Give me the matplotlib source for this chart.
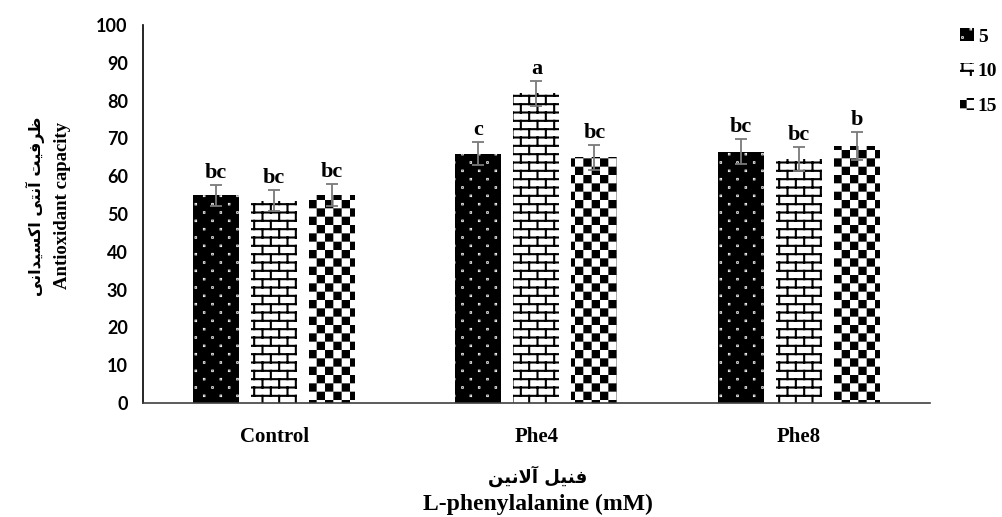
import warnings
import numpy as np
import matplotlib
matplotlib.use('Agg')
import matplotlib.pyplot as plt
from matplotlib.patches import Patch
from matplotlib.path import Path
from matplotlib import hatch as mhatch

warnings.filterwarnings('ignore')

# data
groups = ['Control', 'Phe4', 'Phe8']
series_names = ['5', '10', '15']
vals_5 = [55, 66, 66.5]
vals_10 = [53.5, 82, 64.5]
vals_15 = [55, 65, 68]
err_5 = [2.8, 3.0, 3.3]
err_10 = [2.8, 3.3, 3.2]
err_15 = [2.9, 3.3, 3.6]
letters_5 = ['bc', 'c', 'bc']
letters_10 = ['bc', 'a', 'bc']
letters_15 = ['bc', 'bc', 'b']

# persian labels (presentation forms, visual order)
fa_ylabel = '\uFEC7\uFEAE\uFED3\uFBFF\uFE96 \uFE81\uFEE7\uFE98\uFBFD \uFE8D\uFB90\uFEB4\uFBFF\uFEAA\uFE8D\uFEE7\uFBFD'[::-1]
fa_xlabel = '\uFED3\uFEE8\uFBFF\uFEDE \uFE81\uFEFB\uFEE7\uFBFF\uFEE6'[::-1]
en_ylabel = 'Antioxidant capacity'
en_xlabel = 'L-phenylalanine (mM)'

plt.rcParams['hatch.linewidth'] = 1.5
HW = 0.0105  # half hatch stroke in tile units


# custom hatch tiles (brick, checker, sparse dots)
class Tile(mhatch.HatchPatternBase):
    char = None

    def __init__(self, hatch, density):
        if hatch and self.char in hatch:
            self.verts, self.codes = self.build()
        else:
            self.verts = np.empty((0, 2))
            self.codes = np.empty(0, dtype=Path.code_type)
        self.num_vertices = len(self.verts)

    def set_vertices_and_codes(self, vertices, codes):
        vertices[:] = self.verts
        codes[:] = self.codes


class Brick(Tile):
    char = 'b'

    def build(self):
        rows, cols = 12, 6
        v, c = [], []
        for i in range(rows):
            y0 = (i + 0.5) / rows
            y1 = (i + 1.5) / rows
            v += [(0, y0), (1, y0)]
            c += [Path.MOVETO, Path.LINETO]
            off = 0.25 if i % 2 == 0 else 0.75
            for j in range(cols):
                xx = (j + off) / cols
                v += [(xx, y0), (xx, min(y1, 1.0))]
                c += [Path.MOVETO, Path.LINETO]
                if y1 > 1.0:
                    v += [(xx, 0.0), (xx, y1 - 1.0)]
                    c += [Path.MOVETO, Path.LINETO]
        return np.array(v), np.array(c, dtype=Path.code_type)


class Checker(Tile):
    char = 'k'

    def build(self):
        n = 12
        s = 1 / n
        v, c = [], []
        for i in range(n):
            for j in range(n):
                if (i + j) % 2 == 0:
                    x0, y0 = j * s + HW, i * s + HW
                    x1, y1 = (j + 1) * s - HW, (i + 1) * s - HW
                    v += [(x0, y0), (x1, y0), (x1, y1), (x0, y1), (x0, y0)]
                    c += [Path.MOVETO, Path.LINETO, Path.LINETO, Path.LINETO, Path.CLOSEPOLY]
        return np.array(v), np.array(c, dtype=Path.code_type)


class Dots(Tile):
    char = 'd'

    def build(self):
        rows, cols = 12, 6
        r = 0.002
        v, c = [], []
        for i in range(rows):
            off = 0.25 if i % 2 == 0 else 0.75
            y = (i + 0.5) / rows
            for j in range(cols):
                xx = (j + off) / cols
                v += [(xx - r, y - r), (xx + r, y - r), (xx + r, y + r), (xx - r, y + r), (xx - r, y - r)]
                c += [Path.MOVETO, Path.LINETO, Path.LINETO, Path.LINETO, Path.CLOSEPOLY]
        return np.array(v), np.array(c, dtype=Path.code_type)


mhatch._hatch_types.extend([Brick, Checker, Dots])

styles = [
    dict(facecolor='black', edgecolor='white', hatch='d'),
    dict(facecolor='white', edgecolor='black', hatch='b'),
    dict(facecolor='white', edgecolor='black', hatch='k'),
]

serif = ['Liberation Serif', 'DejaVu Sans']

fig = plt.figure(figsize=(10.03, 5.17), dpi=100)
ax = fig.add_axes([0.1426, 0.2205, 0.7844, 0.7311])

x = np.arange(len(groups))
step = 0.221
width = 0.175
all_vals = [vals_5, vals_10, vals_15]
all_errs = [err_5, err_10, err_15]
all_letters = [letters_5, letters_10, letters_15]

for k in range(3):
    xs = x + (k - 1) * step
    ax.bar(xs, all_vals[k], width, linewidth=0, **styles[k])
    ax.errorbar(xs, all_vals[k], yerr=all_errs[k], fmt='none', ecolor='#7a7a7a',
                elinewidth=1.3, capsize=4, capthick=1.3)
    for xi, v, e, t in zip(xs, all_vals[k], all_errs[k], all_letters[k]):
        ax.annotate(t, (xi, v + e), xytext=(0, 5), textcoords='offset points',
                    ha='center', va='baseline', fontsize=16, fontweight='bold',
                    family=serif)

ax.set_xlim(-0.5, 2.5)
ax.set_ylim(0, 100)
ax.set_yticks(range(0, 101, 10))
ax.set_xticks(x)
ax.set_xticklabels(groups, fontsize=15, fontweight='bold', family=serif)
for lab in ax.get_yticklabels():
    lab.set_fontfamily('Lato')
    lab.set_fontweight('bold')
    lab.set_fontsize(13)
ax.tick_params(axis='y', length=0, pad=11)
ax.tick_params(axis='x', length=0, pad=17)
for s in ['top', 'right']:
    ax.spines[s].set_visible(False)
ax.spines['left'].set_linewidth(1.2)
ax.spines['bottom'].set_linewidth(1.2)
ax.spines['bottom'].set_color('#404040')

# axis titles
fig.text(0.035, 0.6, fa_ylabel, rotation=90, ha='center', va='center',
         fontsize=11.5, fontweight='bold', family=['DejaVu Sans'])
fig.text(0.062, 0.603, en_ylabel, rotation=90, ha='center', va='center',
         fontsize=13.5, fontweight='bold', family=serif)
fig.text(0.536, 0.066, fa_xlabel, ha='center', va='baseline',
         fontsize=13, fontweight='bold', family=['DejaVu Sans'])
fig.text(0.536, 0.013, en_xlabel, ha='center', va='baseline',
         fontsize=17, fontweight='bold', family=serif)

handles = [Patch(linewidth=0, **st) for st in styles]
fig.legend(handles, series_names, loc='upper left', bbox_to_anchor=(0.957, 0.945),
           frameon=False, borderpad=0, borderaxespad=0, handlelength=0.72,
           handleheight=0.62, handletextpad=0.2, labelspacing=0.9,
           prop=dict(family=serif, weight='bold', size=14))

fig.savefig('out.png', dpi=100)
